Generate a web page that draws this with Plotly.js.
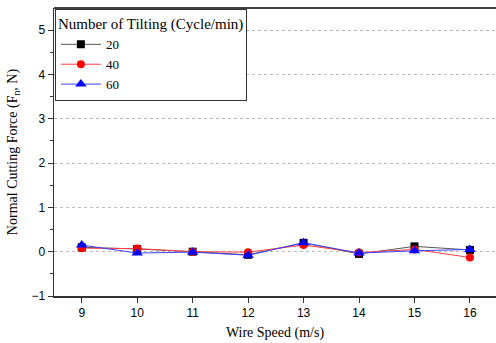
<!DOCTYPE html>
<html><head><meta charset="utf-8">
<script src="https://cdn.plot.ly/plotly-3.0.1.min.js"></script>
<style>body{margin:0}#c{width:496px;height:343px}</style>
</head><body><div id="c"></div>
<script>
const wireSpeed = [9, 10, 11, 12, 13, 14, 15, 16];
const tilt20 = [0.10, 0.06, 0.00, -0.07, 0.20, -0.05, 0.12, 0.04];
const tilt40 = [0.08, 0.07, 0.00, -0.01, 0.15, -0.02, 0.05, -0.13];
const tilt60 = [0.15, -0.03, -0.01, -0.08, 0.20, -0.03, 0.02, 0.05];
const seriesNames = ['20', '40', '60'];

const SERIF = '"Times New Roman", "Liberation Serif", serif';
const SANS = 'Arial, "Liberation Sans", sans-serif';
const mk = (y, name, color, sym, lineColor) => ({
  x: wireSpeed, y: y, name: name, type: 'scatter', mode: 'lines+markers',
  line: {color: lineColor, width: 1},
  marker: {color: color, symbol: sym, size: sym === 'triangle-up' ? 10 : 8}
});
const data = [
  mk(tilt20, seriesNames[0], '#000000', 'square', '#555555'),
  mk(tilt40, seriesNames[1], '#ff0000', 'circle', '#ff4040'),
  mk(tilt60, seriesNames[2], '#0000ff', 'triangle-up', '#4040ff')
];
const layout = {
  width: 496, height: 343,
  margin: {l: 54, r: 0, t: 8, b: 47},
  paper_bgcolor: '#fff', plot_bgcolor: '#fff',
  font: {family: SERIF},
  showlegend: true,
  legend: {x: 0.002, y: 0.997, xanchor: 'left', yanchor: 'top',
    bordercolor: '#333', borderwidth: 1, bgcolor: '#fff',
    font: {family: SERIF, size: 13, color: '#000'},
    title: {text: 'Number of Tilting (Cycle/min)', side: 'top',
      font: {family: SERIF, size: 15, color: '#000'}},
    tracegroupgap: 0, itemwidth: 40},
  xaxis: {range: [8.5, 16.47], tickvals: wireSpeed, ticks: 'outside', ticklen: 5,
    tickcolor: '#333', showline: true, linecolor: '#333', linewidth: 1.5,
    showgrid: false, zeroline: false,
    tickfont: {family: SANS, size: 12, color: '#000'},
    title: {text: 'Wire Speed (m/s)', standoff: 8,
      font: {family: SERIF, size: 14, color: '#000'}}},
  yaxis: {range: [-1, 5.5], tickvals: [-1, 0, 1, 2, 3, 4, 5], ticks: 'outside', ticklen: 5,
    tickcolor: '#333', showline: true, linecolor: '#333', linewidth: 1.5,
    showgrid: true, gridcolor: '#bbb', griddash: 'dot', gridwidth: 1, zeroline: false,
    minor: {tickvals: [-0.5, 0.5, 1.5, 2.5, 3.5, 4.5], ticks: 'outside', ticklen: 3, tickcolor: '#333', showgrid: false},
    tickfont: {family: SANS, size: 12, color: '#000'},
    title: {text: 'Normal Cutting Force (F<sub>n</sub>, N)', standoff: 10,
      font: {family: SERIF, size: 14, color: '#000'}}},
  shapes: [{type: 'line', xref: 'paper', yref: 'paper', x0: 0, x1: 1, y0: 1, y1: 1,
    line: {color: '#000', width: 1.5}}]
};
Plotly.newPlot('c', data, layout, {displayModeBar: false, staticPlot: true});
</script></body></html>
